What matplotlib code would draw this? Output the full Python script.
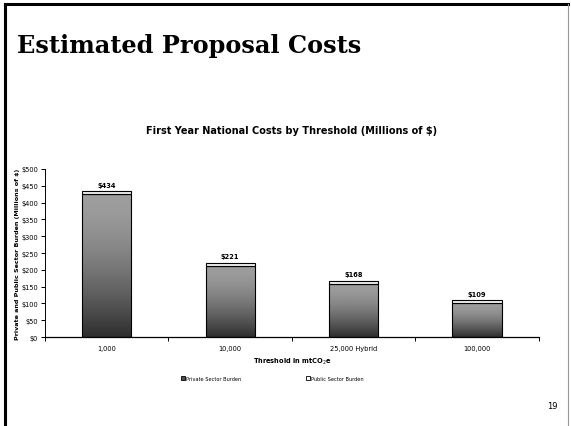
import matplotlib
matplotlib.use("Agg")
import matplotlib.pyplot as plt
from matplotlib.lines import Line2D
from matplotlib.patches import Patch
import numpy as np

categories = ["1,000", "10,000", "25,000 Hybrid", "100,000"]
private_burden = [425, 212, 159, 100]
public_burden = [9, 9, 9, 9]
totals = ["$434", "$221", "$168", "$109"]
y_ticks = [0, 50, 100, 150, 200, 250, 300, 350, 400, 450, 500]

fig = plt.figure(figsize=(5.71, 4.27), dpi=100)
fig.patch.set_facecolor("white")

# slide frame
fig.add_artist(Line2D([0.009, 0.995], [0.988, 0.988], color="black", lw=2.2))
fig.add_artist(Line2D([0.009, 0.009], [0.0, 0.988], color="black", lw=2.2))
fig.add_artist(Line2D([0.994, 0.994], [0.0, 0.988], color="#999999", lw=0.8))

fig.text(0.03, 0.893, "Estimated Proposal Costs", family="DejaVu Serif",
         fontweight="bold", fontsize=17.3, va="center", ha="left")
fig.text(0.968, 0.049, "19", fontsize=6, ha="center", va="center")

ax = fig.add_axes([0.0788, 0.2084, 0.865, 0.3935])
x = np.arange(len(categories))
width = 0.4

bars = ax.bar(x, private_burden, width, color="none", edgecolor="black", lw=0.8, zorder=3)
ax.bar(x, public_burden, width, bottom=private_burden, color="#f0f0f0",
       edgecolor="black", lw=0.8, zorder=3)

# vertical gradient inside the private bars
grad = (0.62 - 0.44 * np.linspace(0, 1, 256) ** 1.6).reshape(-1, 1)
for b in bars:
    ax.imshow(grad, cmap="gray", vmin=0, vmax=1, aspect="auto", origin="upper",
              extent=[b.get_x(), b.get_x() + b.get_width(), 0, b.get_height()],
              zorder=2)

for i in range(len(categories)):
    ax.text(x[i], private_burden[i] + public_burden[i] + 10, totals[i],
            ha="center", va="bottom", fontsize=4.8, fontweight="bold")

ax.set_xlim(-0.5, len(categories) - 0.5)
ax.set_ylim(0, 500)
ax.set_yticks(y_ticks)
ax.set_yticklabels(["$%d" % v for v in y_ticks])
ax.set_xticks(x)
ax.set_xticklabels(categories)
ax.set_xticks(np.arange(-0.5, len(categories)), minor=True)
ax.tick_params(axis="x", which="major", length=0, labelsize=4.8, pad=6)
ax.tick_params(axis="x", which="minor", length=3, width=0.7, direction="out")
ax.tick_params(axis="y", labelsize=4.8, length=3, width=0.7, direction="out", pad=2)
for s in ["top", "right"]:
    ax.spines[s].set_visible(False)
ax.spines["left"].set_linewidth(0.7)
ax.spines["bottom"].set_linewidth(0.9)

ax.set_title("First Year National Costs by Threshold (Millions of $)",
             fontsize=7, fontweight="bold", pad=26)
ax.set_xlabel("Threshold in mtCO$_2$e", fontsize=4.8, fontweight="bold", labelpad=3)
ax.set_ylabel("Private and Public Sector Burden (Millions of $)", fontsize=4.6,
              fontweight="bold", labelpad=0.5)

handles = [Patch(facecolor="#505050", edgecolor="black", lw=0.6),
           Patch(facecolor="white", edgecolor="black", lw=0.6)]
ax.legend(handles, ["Private Sector Burden", "Public Sector Burden"], ncol=2,
          loc="center", bbox_to_anchor=(0.46, -0.245), frameon=False,
          fontsize=3.6, handlelength=0.8, handleheight=0.8, handletextpad=0.2,
          columnspacing=12.8)

fig.savefig("out.png", dpi=100)
